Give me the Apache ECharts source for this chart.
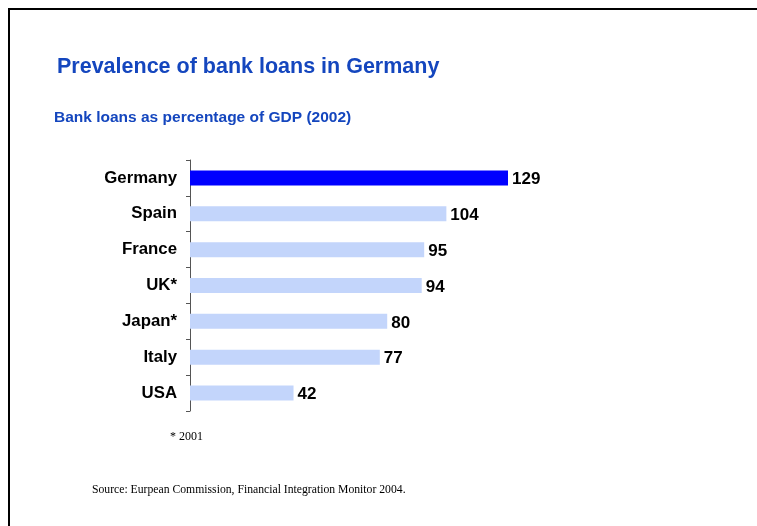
<!DOCTYPE html>
<html><head><meta charset="utf-8">
<script src="https://cdn.jsdelivr.net/npm/echarts@6/dist/echarts.min.js"></script>
<style>html,body{margin:0;padding:0;background:#fff}#c{width:757px;height:526px}</style>
</head><body><div id="c"></div>
<script>
const categories = ['Germany','Spain','France','UK*','Japan*','Italy','USA'];
const values = [129,104,95,94,80,77,42];
const highlight = 'Germany';

const chart = echarts.init(document.getElementById('c'), null, {renderer:'canvas'});
const FONT = '"Liberation Sans", Arial, sans-serif';
const SERIF = '"Liberation Serif", "Times New Roman", serif';
chart.setOption({
  animation:false,
  backgroundColor:'#fff',
  graphic:[
    {type:'rect', shape:{x:9,y:9,width:800,height:600}, style:{fill:'none',stroke:'#000',lineWidth:2}},
    {type:'text', left:57, top:56, style:{text:'Prevalence of bank loans in Germany', font:'bold 21.5px '+FONT, fill:'#1446BE'}},
    {type:'text', left:54, top:110, style:{text:'Bank loans as percentage of GDP (2002)', font:'bold 15.5px '+FONT, fill:'#1446BE'}},
    {type:'text', left:170, top:431, style:{text:'* 2001', font:'12px '+SERIF, fill:'#000'}},
    {type:'text', left:92, top:484, style:{text:'Source: Eurpean Commission, Financial Integration Monitor 2004.', font:'11.7px '+SERIF, fill:'#000'}}
  ],
  grid:{left:190, top:160, width:318, height:251, containLabel:false},
  xAxis:{type:'value', min:0, max:129, show:false},
  yAxis:{type:'category', inverse:true, data:categories,
    axisLine:{show:true, lineStyle:{color:'#555', width:1}},
    axisTick:{show:true, length:4, inside:false, lineStyle:{color:'#555'}},
    axisLabel:{margin:13, padding:[3,0,0,0], fontFamily:FONT, fontWeight:'bold', fontSize:16.8, color:'#000'}
  },
  series:[{type:'bar', barWidth:15,
    data: values.map((v,i)=>({value:v, itemStyle:{color: categories[i]===highlight ? '#0000FF' : '#C3D5FB'}})),
    label:{show:true, position:'right', distance:4, offset:[0,1.5], fontFamily:FONT, fontWeight:'bold', fontSize:17, color:'#000'}
  }]
});
</script></body></html>
